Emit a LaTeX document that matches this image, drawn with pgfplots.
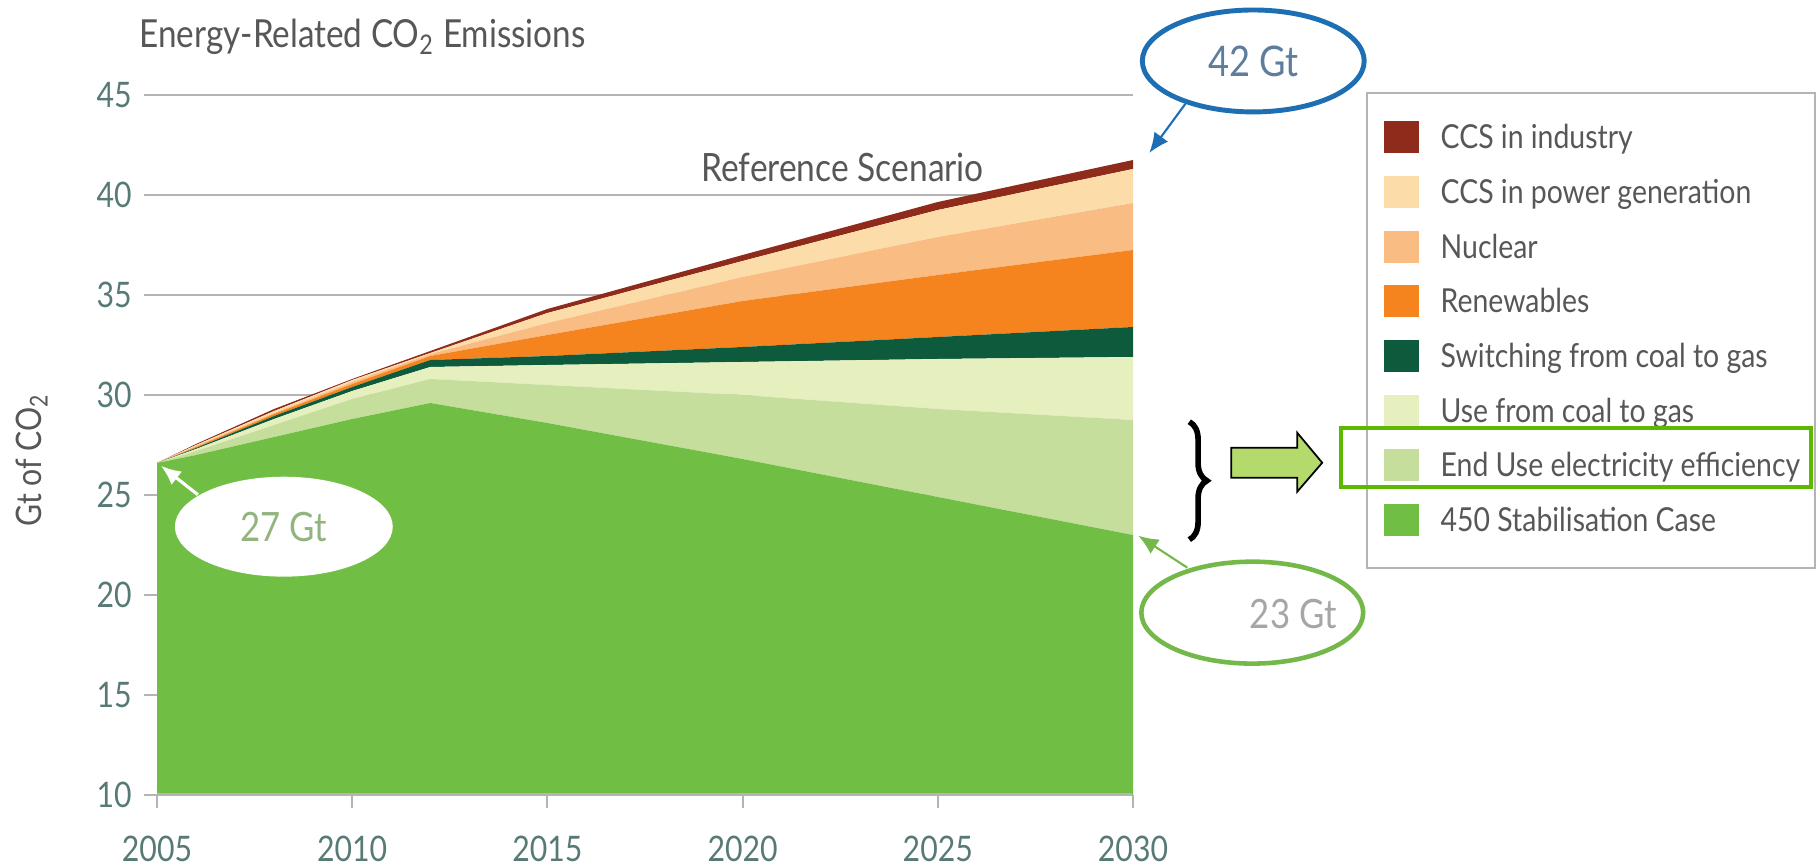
\documentclass[border=0pt]{standalone}
\usepackage{fontspec}
\setmainfont{Lato}[FakeStretch=0.86]
\usepackage{pgfplots}
\usepackage{pgfplotstable}
\pgfplotsset{compat=1.18}
\usetikzlibrary{arrows.meta,decorations.pathreplacing}

\definecolor{cgreen}{HTML}{70BE44}
\definecolor{ceu}{HTML}{C5DE9C}
\definecolor{cuc}{HTML}{E6EFBE}
\definecolor{csw}{HTML}{0D5B3C}
\definecolor{cre}{HTML}{F5841F}
\definecolor{cnu}{HTML}{F9BC82}
\definecolor{ccp}{HTML}{FCDDAA}
\definecolor{cci}{HTML}{8E2B1B}
\definecolor{tickcol}{HTML}{577A76}
\definecolor{txtgray}{HTML}{575757}
\definecolor{gridgray}{HTML}{B4B4B4}
\definecolor{eblue}{HTML}{1E6EB4}
\definecolor{etxt}{HTML}{5C7E9C}
\definecolor{egreen}{HTML}{74B84A}
\definecolor{hlgreen}{HTML}{5CB800}
\definecolor{arrfill}{HTML}{B4DA6C}

\pgfplotstableread{
year g eu uc sw re nu cp ci
2005 26.6 0 0 0 0 0 0 0
2006 27.0 0.2 0.1 0.05 0.05 0.05 0.05 0.05
2008 27.9 0.6 0.3 0.15 0.1 0.05 0.1 0.1
2010 28.8 1.0 0.4 0.2 0.15 0.1 0.1 0.05
2012 29.6 1.2 0.6 0.35 0.2 0.1 0.05 0.1
2015 28.6 1.9 1.0 0.45 1.05 0.6 0.5 0.2
2020 26.8 3.2 1.65 0.75 2.3 1.2 0.8 0.3
2025 24.9 4.4 2.5 1.1 3.1 1.9 1.35 0.4
2030 23.0 5.75 3.15 1.5 3.85 2.35 1.7 0.45
}\emis

\begin{document}
\begin{tikzpicture}
\begin{axis}[
  at={(1.57cm,-7.95cm)}, anchor=south west,
  width=9.76cm, height=7.0cm, scale only axis,
  xmin=2005, xmax=2030, ymin=10, ymax=45,
  xtick={2005,2010,...,2030}, ytick={10,15,...,45},
  stack plots=y, area style, axis on top=false,
  axis line style={draw=none},
  xtick pos=lower, ytick pos=left,
  tick align=outside, major tick length=0.13cm,
  tick style={draw=gridgray, line width=0.6pt},
  ymajorgrids, grid style={gridgray, line width=0.6pt},
  /pgf/number format/1000 sep={},
  /pgf/number format/assume math mode=true,
  ticklabel style={font=\fontsize{10}{12}\selectfont, text=tickcol},
  xticklabel style={yshift=-0.16cm},
  reverse legend,
  legend style={draw=none, fill=none, inner sep=0pt,
    at={(axis description cs:1.2561,0.9643)}, anchor=north west,
    font=\fontsize{9.4}{11.5}\selectfont, text=txtgray,
    row sep=0.211cm, column sep=0.22cm,
    nodes={inner sep=0pt}},
  legend cell align=left,
  legend image code/.code={\fill[#1] (0cm,-0.16cm) rectangle (0.35cm,0.16cm);},
]
\addplot[fill=cgreen, draw=none] table[x=year,y=g]{\emis} \closedcycle;
\addlegendentry{\strut 450 Stabilisation Case}
\addplot[fill=ceu, draw=none] table[x=year,y=eu]{\emis} \closedcycle;
\addlegendentry{\strut End Use electricity efficiency}
\addplot[fill=cuc, draw=none] table[x=year,y=uc]{\emis} \closedcycle;
\addlegendentry{\strut Use from coal to gas}
\addplot[fill=csw, draw=none] table[x=year,y=sw]{\emis} \closedcycle;
\addlegendentry{\strut Switching from coal to gas}
\addplot[fill=cre, draw=none] table[x=year,y=re]{\emis} \closedcycle;
\addlegendentry{\strut Renewables}
\addplot[fill=cnu, draw=none] table[x=year,y=nu]{\emis} \closedcycle;
\addlegendentry{\strut Nuclear}
\addplot[fill=ccp, draw=none] table[x=year,y=cp]{\emis} \closedcycle;
\addlegendentry{\strut CCS in power generation}
\addplot[fill=cci, draw=none] table[x=year,y=ci]{\emis} \closedcycle;
\addlegendentry{\strut CCS in industry}
\end{axis}

\begin{scope}[x=0.01cm, y=-0.01cm]
  % bottom axis line
  \draw[gridgray, line width=0.6pt] (157,795) -- (1133,795);
  % title
  \node[anchor=west, inner sep=0pt, text=txtgray, font=\fontsize{11}{13}\selectfont]
    at (139,37) {Energy-Related CO\textsubscript{2} Emissions};
  % y label
  \node[rotate=90, inner sep=0pt, text=txtgray, font=\fontsize{10}{12}\selectfont]
    at (32,460) {Gt of CO\textsubscript{2}};
  % reference scenario
  \node[anchor=west, inner sep=0pt, text=txtgray, font=\fontsize{11.1}{13}\selectfont]
    at (701,168) {Reference Scenario};
  % legend box
  \draw[gridgray, line width=0.6pt] (1368,93) rectangle (1816,568);
  % highlight box
  \draw[hlgreen, line width=1.1pt] (1342,428) rectangle (1812,487);
  % block arrow
  \draw[black, line width=0.5pt, fill=arrfill]
    (1232,448) -- (1298,448) -- (1298,433) -- (1323,463) -- (1298,492) -- (1298,478) -- (1232,478) -- cycle;
  % brace
  \draw[black, line width=1.6pt, decorate, decoration={brace, amplitude=5pt}]
    (1190,422) -- (1190,540);
  % 42 Gt
  \draw[eblue, line width=1.4pt, fill=white] (1254,61) ellipse [x radius=111, y radius=51];
  \node[text=etxt, font=\fontsize{12}{14}\selectfont] at (1254,61) {42 Gt};
  \draw[eblue, line width=0.6pt, -{Latex[length=0.2cm, width=0.17cm]}] (1186,104) -- (1150,153);
  % 27 Gt
  \fill[white] (284,527) ellipse [x radius=109, y radius=50];
  \node[text=egreen!60!gray!80, font=\fontsize{11.5}{14}\selectfont] at (284,527) {27 Gt};
  \draw[white, line width=0.9pt, -{Latex[length=0.2cm, width=0.17cm]}] (198,495) -- (161,466);
  % 23 Gt
  \draw[egreen, line width=1.3pt, fill=white] (1253,613) ellipse [x radius=111, y radius=51];
  \node[text=gray!70, font=\fontsize{11.5}{14}\selectfont] at (1294,614) {23 Gt};
  \draw[egreen, line width=0.6pt, -{Latex[length=0.2cm, width=0.17cm]}] (1188,568) -- (1139,536);
\end{scope}
\pgfresetboundingbox
\useasboundingbox (0,0) rectangle (18.17cm,-8.64cm);
\end{tikzpicture}
\end{document}
